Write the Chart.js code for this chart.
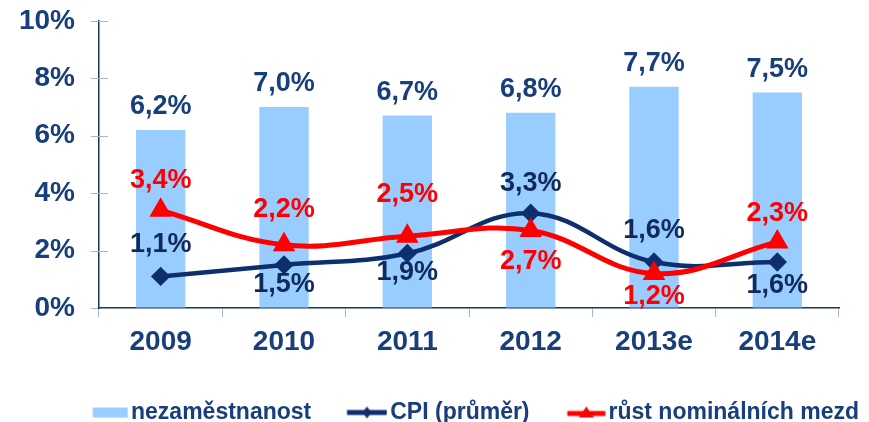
<!DOCTYPE html>
<html>
<head>
<meta charset="utf-8">
<script src="https://cdn.jsdelivr.net/npm/chart.js@4"></script>
<style>
  html, body { margin: 0; padding: 0; background: #fff; }
</style>
</head>
<body>
<canvas id="chart" width="869" height="422"></canvas>
<script>
// chart data
const years = ['2009', '2010', '2011', '2012', '2013e', '2014e']
const unemployment = [6.2, 7.0, 6.7, 6.8, 7.7, 7.5]
const cpi = [1.1, 1.5, 1.9, 3.3, 1.6, 1.6]
const wages = [3.4, 2.2, 2.5, 2.7, 1.2, 2.3]
const seriesNames = ['nezaměstnanost', 'CPI (průměr)', 'růst nominálních mezd']
const yMin = 0
const yMax = 10
const yStep = 2

// label placement (pixels from the point, negative = above)
const cpiLabelDy = [-32, 20, 19, -30, -32, 23]
const wageLabelDy = [-30, -35, -42, 31, 23, -28]

const FONT = '"Liberation Sans", Arial, sans-serif'
const NAVY = '#183E7C'
const CPI_COLOR = '#0D2F6E'
const CPI_TEXT = '#102A5C'
const RED = '#FF0000'
const BAR_COLOR = '#99CCFF'
const TICK_COLOR = '#A6B6D2'

const fmt = v => v.toFixed(1).replace('.', ',') + '%'

// legend icons: drawn right aligned inside an 81px wide canvas
function makeIcon(contentWidth, draw) {
    const c = document.createElement('canvas')
    c.width = 81
    c.height = 20
    const g = c.getContext('2d')
    const x0 = 80.5 - contentWidth
    draw(g, x0, contentWidth, 10)
    return c
}

const legendIcons = [
    makeIcon(35, (g, x, w, cy) => {
        g.fillStyle = BAR_COLOR
        g.fillRect(x, cy - 5, w, 10)
    }),
    makeIcon(40, (g, x, w, cy) => {
        g.strokeStyle = CPI_COLOR
        g.lineWidth = 5
        g.beginPath(); g.moveTo(x, cy); g.lineTo(x + w, cy); g.stroke()
        const mx = x + w / 2
        g.fillStyle = CPI_COLOR
        g.beginPath()
        g.moveTo(mx, cy - 6); g.lineTo(mx + 4.5, cy); g.lineTo(mx, cy + 6); g.lineTo(mx - 4.5, cy)
        g.closePath(); g.fill()
    }),
    makeIcon(38, (g, x, w, cy) => {
        g.strokeStyle = RED
        g.lineWidth = 5
        g.beginPath(); g.moveTo(x, cy + 1); g.lineTo(x + w, cy + 1); g.stroke()
        const mx = x + w / 2
        g.fillStyle = RED
        g.beginPath()
        g.moveTo(mx, cy - 6); g.lineTo(mx + 7.5, cy + 5); g.lineTo(mx - 7.5, cy + 5)
        g.closePath(); g.fill()
    })
]

const valueLabels = {
    id: 'valueLabels',
    afterDatasetsDraw(chart) {
        const ctx = chart.ctx
        ctx.save()
        ctx.font = 'bold 27px ' + FONT
        ctx.textAlign = 'center'
        ctx.textBaseline = 'middle'
        chart.data.datasets.forEach((ds, i) => {
            const meta = chart.getDatasetMeta(i)
            meta.data.forEach((el, j) => {
                const dy = ds.type === 'bar' ? -23 : ds.labelDy[j]
                ctx.fillStyle = ds.labelColor
                ctx.fillText(fmt(ds.data[j]), el.x, el.y + dy)
            })
        })
        ctx.restore()
    }
}

// y tick marks crossing the axis line
const crossTicks = {
    id: 'crossTicks',
    afterDraw(chart) {
        const y = chart.scales.y
        const ctx = chart.ctx
        ctx.save()
        ctx.strokeStyle = TICK_COLOR
        ctx.lineWidth = 1
        y.ticks.forEach(t => {
            const py = Math.round(y.getPixelForValue(t.value)) + 0.5
            ctx.beginPath()
            if (t.value === yMin) {
                ctx.moveTo(y.right - 8, py)
                ctx.lineTo(y.right - 1, py)
            } else {
                ctx.moveTo(y.right - 8, py)
                ctx.lineTo(y.right + 9, py)
            }
            ctx.stroke()
        })
        ctx.restore()
    }
}

new Chart(document.getElementById('chart'), {
    data: {
        labels: years,
        datasets: [
            {
                type: 'bar',
                label: seriesNames[0],
                data: unemployment,
                backgroundColor: BAR_COLOR,
                barPercentage: 0.4,
                categoryPercentage: 1,
                labelColor: NAVY,
                order: 3
            },
            {
                type: 'line',
                label: seriesNames[1],
                data: cpi,
                borderColor: CPI_COLOR,
                backgroundColor: CPI_COLOR,
                borderWidth: 4.5,
                tension: 0.4,
                pointStyle: 'rectRot',
                pointRadius: 6.5,
                labelDy: cpiLabelDy,
                labelColor: CPI_TEXT,
                order: 2
            },
            {
                type: 'line',
                label: seriesNames[2],
                data: wages,
                borderColor: RED,
                backgroundColor: RED,
                borderWidth: 5,
                tension: 0.4,
                pointStyle: 'triangle',
                pointRadius: 8,
                labelDy: wageLabelDy,
                labelColor: RED,
                order: 1
            }
        ]
    },
    options: {
        responsive: false,
        animation: false,
        layout: { padding: { left: 14, right: 6, top: 0, bottom: -12 } },
        scales: {
            x: {
                grid: { drawOnChartArea: false, offset: true, tickLength: 9, color: TICK_COLOR },
                border: { color: '#17375E', width: 1.5 },
                ticks: { color: NAVY, font: { family: FONT, size: 28, weight: 'bold' }, padding: 8 },
                afterFit: s => { s.height = 89 }
            },
            y: {
                min: yMin,
                max: yMax,
                grid: { drawOnChartArea: false, tickLength: 20, color: 'transparent' },
                border: { color: '#17375E', width: 1.5 },
                ticks: {
                    stepSize: yStep,
                    color: NAVY,
                    font: { family: FONT, size: 28, weight: 'bold' },
                    padding: 4,
                    callback: v => v + '%'
                },
                afterFit: s => { s.width = 85 }
            },
            right: {
                position: 'right',
                display: true,
                grid: { display: false },
                border: { display: false },
                ticks: { display: false },
                afterFit: s => { s.width = 24 }
            }
        },
        plugins: {
            tooltip: { enabled: false },
            legend: {
                position: 'bottom',
                align: 'end',
                onClick: null,
                labels: {
                    usePointStyle: true,
                    pointStyleWidth: 63.5,
                    padding: 4,
                    color: NAVY,
                    font: { family: FONT, size: 23, weight: 'bold' },
                    generateLabels: () => seriesNames.map((name, i) => ({
                        text: name,
                        pointStyle: legendIcons[i],
                        fontColor: NAVY,
                        fillStyle: 'transparent',
                        strokeStyle: 'transparent',
                        lineWidth: 0,
                        hidden: false,
                        datasetIndex: i
                    }))
                }
            }
        }
    },
    plugins: [valueLabels, crossTicks]
})
</script>
</body>
</html>
